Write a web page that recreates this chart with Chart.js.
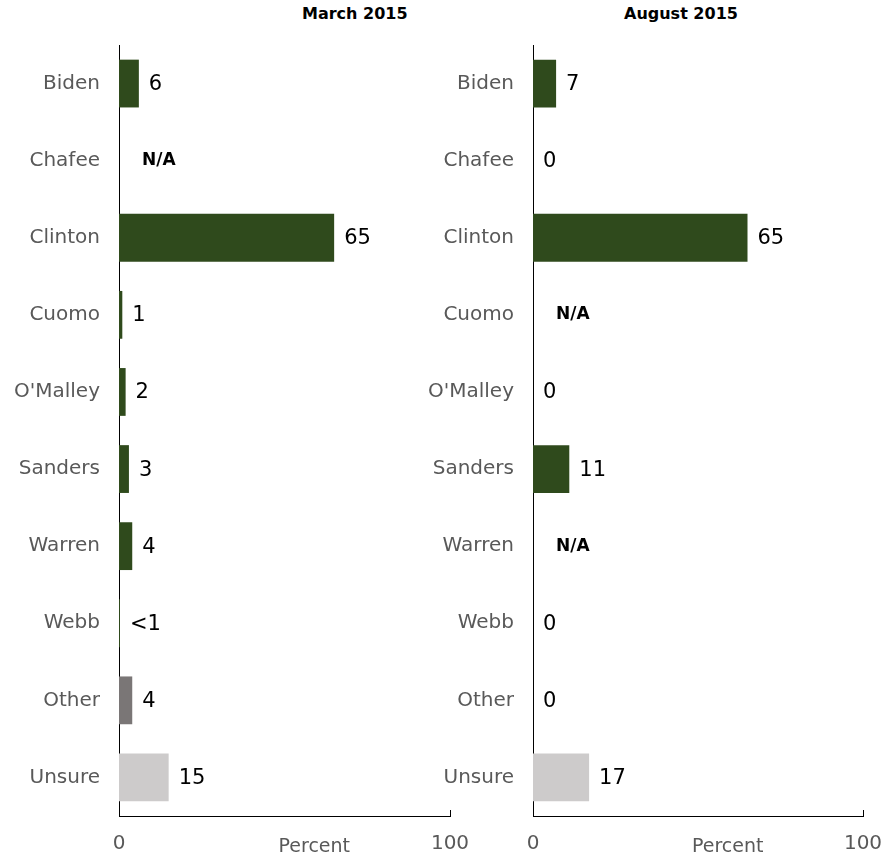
<!DOCTYPE html>
<html>
<head>
<meta charset="utf-8">
<script src="https://cdn.jsdelivr.net/npm/chart.js@4.4.0/dist/chart.umd.min.js"></script>
<style>
body { margin: 0; background: #fff; width: 888px; height: 858px; position: relative; overflow: hidden; font-family: 'DejaVu Sans', sans-serif; }
canvas { position: absolute; top: 0; }
#c1 { left: 0; }
#c2 { left: 414px; }
.ttl { position: absolute; top: 4px; font-weight: bold; font-size: 16px; color: #000; font-family: 'DejaVu Sans', sans-serif; }
</style>
</head>
<body>
<div class="ttl" style="left:302px">March 2015</div>
<div class="ttl" style="left:624px">August 2015</div>
<canvas id="c1" width="470" height="858"></canvas>
<canvas id="c2" width="474" height="858"></canvas>
<script>
const categories = ['Biden', 'Chafee', 'Clinton', 'Cuomo', "O'Malley", 'Sanders', 'Warren', 'Webb', 'Other', 'Unsure'];
const marchValues = [6, null, 65, 1, 2, 3, 4, 0.3, 4, 15];
const marchLabels = ['6', 'N/A', '65', '1', '2', '3', '4', '<1', '4', '15'];
const augustValues = [7, 0, 65, null, 0, 11, null, 0, 0, 17];
const augustLabels = ['7', '0', '65', 'N/A', '0', '11', 'N/A', '0', '0', '17'];
const xTicks = [0, 100];
const axisTitle = 'Percent';

const FONT = '"DejaVu Sans", sans-serif';
const GREEN = '#2f4a1c';
const barColors = [GREEN, GREEN, GREEN, GREEN, GREEN, GREEN, GREEN, GREEN, '#7a7676', '#cdcbcb'];

// value labels next to the bars, "Percent" under the axis, little tick at 100
const labelPlugin = {
    id: 'valueLabels',
    afterDatasetsDraw(chart) {
        const ctx = chart.ctx;
        const xs = chart.scales.x, ys = chart.scales.y;
        const labels = chart.options.plugins.valueLabels.labels;
        const vals = chart.data.datasets[0].data;
        ctx.save();
        ctx.textBaseline = 'middle';
        ctx.textAlign = 'left';
        ctx.fillStyle = '#000';
        labels.forEach((txt, i) => {
            const y = ys.getPixelForValue(i);
            if (vals[i] === null) {
                ctx.font = 'bold 17px ' + FONT;
                ctx.fillText(txt, xs.getPixelForValue(0) + 23, y);
            } else {
                ctx.font = '21px ' + FONT;
                ctx.fillText(txt, xs.getPixelForValue(vals[i]) + 10, y + 1);
            }
        });

        ctx.font = '19px ' + FONT;
        ctx.fillStyle = '#595959';
        ctx.textAlign = 'center';
        ctx.fillText(axisTitle, xs.getPixelForValue(59), chart.chartArea.bottom + 31);

        const x100 = Math.round(xs.getPixelForValue(100)) + 0.5;
        ctx.strokeStyle = '#000';
        ctx.lineWidth = 1;
        ctx.beginPath();
        ctx.moveTo(x100, chart.chartArea.bottom);
        ctx.lineTo(x100, chart.chartArea.bottom - 6);
        ctx.stroke();
        ctx.restore();
    }
};

function makeChart(id, values, labels, padRight) {
    new Chart(document.getElementById(id).getContext('2d'), {
        type: 'bar',
        data: {
            labels: categories,
            datasets: [{
                data: values,
                backgroundColor: barColors,
                barPercentage: 0.62,
                categoryPercentage: 1
            }]
        },
        options: {
            indexAxis: 'y',
            responsive: false,
            animation: false,
            layout: { padding: { top: 45, right: padRight, left: 0, bottom: 0 } },
            plugins: {
                legend: { display: false },
                tooltip: { enabled: false },
                valueLabels: { labels: labels }
            },
            scales: {
                y: {
                    grid: { display: false, drawTicks: false },
                    border: { display: true, color: '#000', width: 1 },
                    ticks: {
                        color: '#595959',
                        padding: 19,
                        font: { size: 20, family: FONT }
                    },
                    afterFit: s => { s.width = 119; s.paddingTop = 0; s.paddingBottom = 0; }
                },
                x: {
                    min: 0,
                    max: 100,
                    grid: { display: false, drawTicks: false },
                    border: { display: true, color: '#000', width: 1 },
                    afterBuildTicks: s => { s.ticks = xTicks.map(v => ({ value: v })); },
                    ticks: {
                        autoSkip: false,
                        maxRotation: 0,
                        padding: 16,
                        color: '#595959',
                        font: { size: 20, family: FONT }
                    },
                    afterFit: s => { s.height = 42; s.paddingLeft = 0; s.paddingRight = 0; }
                }
            }
        },
        plugins: [labelPlugin]
    });
}

makeChart('c1', marchValues, marchLabels, 20);
makeChart('c2', augustValues, augustLabels, 25);
</script>
</body>
</html>
